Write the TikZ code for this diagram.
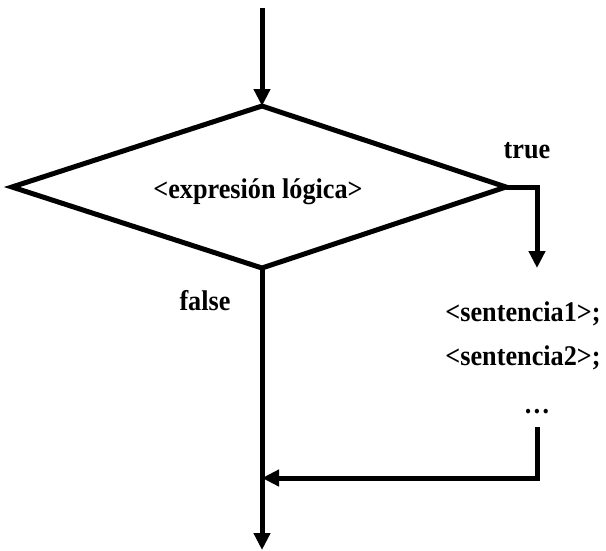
\documentclass[tikz,border=0pt]{standalone}
\usepackage{fontspec}
\setmainfont{Liberation Serif}[FakeStretch=0.92]
\usetikzlibrary{arrows.meta}
\begin{document}
\begin{tikzpicture}[x=1pt,y=-1pt,
  flow/.style={line width=5pt,-{Triangle[width=16pt,length=17pt]}},
  plain/.style={line width=5pt},
  lbl/.style={font=\fontsize{28.5}{31}\selectfont\bfseries,inner sep=0pt,anchor=base}]
\useasboundingbox (0,0) rectangle (606,550);
% diamond corners
\coordinate (dt) at (262,106);
\coordinate (dl) at (12,187);
\coordinate (dr) at (506,187);
\coordinate (db) at (262,268);
\coordinate (start) at (262,8);
\draw[plain,line join=miter] (dt) -- (dr) -- (db) -- (dl) -- cycle;
\node[lbl] (cond) at (258,198) {<expresión lógica>};
\node[lbl] (true) at (527,158) {true};
\node[lbl] (false) at (205,310) {false};
\node[lbl] (s1) at (523,321) {<sentencia1>;};
\node[lbl] (s2) at (523,365) {<sentencia2>;};
\node[lbl] (dots) at (537,413) {…};
\coordinate (tc) at (537,187);
\coordinate (tend) at (537,268);
\coordinate (rtop) at (537,427);
\coordinate (rcor) at (537,478);
\coordinate (join) at (262,478);
\coordinate (bend) at (262,550);
\draw[flow] (start) -- (dt);
\draw[flow,line join=miter] (dr) -- (tc) -- (tend);
\draw[flow,line join=miter] (rtop) -- (rcor) -- (join);
\draw[flow] (db) -- (bend);
\end{tikzpicture}
\end{document}
